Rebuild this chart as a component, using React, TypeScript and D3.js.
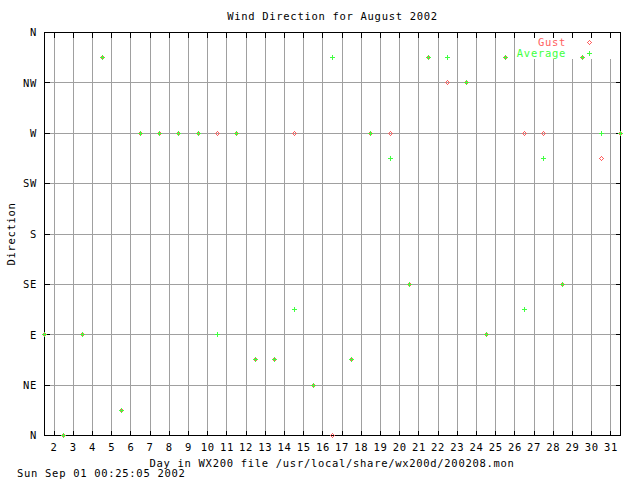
import * as d3 from 'd3';

// day position on the x axis (reading taken at mid-day)
const dayPos = [1.5, 2.5, 3.5, 4.5, 5.5, 6.5, 7.5, 8.5, 9.5, 10.5, 11.5, 12.5, 13.5, 14.5, 15.5, 16.5,
  17.5, 18.5, 19.5, 20.5, 21.5, 22.5, 23.5, 24.5, 25.5, 26.5, 27.5, 28.5, 29.5, 30.5, 31.5];
const gust = [90, 0, 90, 337.5, 22.5, 270, 270, 270, 270, 270, 270, 67.5, 67.5, 270, 45, 0,
  67.5, 270, 270, 135, 337.5, 315, 315, 90, 337.5, 270, 270, 135, 337.5, 247.5, 270];
const average = [90, 0, 90, 337.5, 22.5, 270, 270, 270, 270, 90, 270, 67.5, 67.5, 112.5, 45, 337.5,
  67.5, 270, 247.5, 135, 337.5, 337.5, 315, 90, 337.5, 112.5, 247.5, 135, 337.5, 270, 270];
const dayTicks = [2, 3, 4, 5, 6, 7, 8, 9, 10, 11, 12, 13, 14, 15, 16, 17, 18, 19, 20, 21, 22, 23, 24,
  25, 26, 27, 28, 29, 30, 31];
const dirTicks = [0, 45, 90, 135, 180, 225, 270, 315, 360];
const dirLabels = ['N', 'NE', 'E', 'SE', 'S', 'SW', 'W', 'NW', 'N'];

const RED = '#ff6060';
const GREEN = '#40ff40';
const GRID = '#a0a0a0';
const font = { fontFamily: '"DejaVu Sans Mono", monospace', fontSize: 10.5, letterSpacing: 0.7 };

const left = 44.5, right = 620.5, top = 32.5, bottom = 435.5;

// pixel-style point marks, like gnuplot's png terminal
const diamondPx = [[0, -2], [1, -1], [2, 0], [1, 1], [0, 2], [-1, 1], [-2, 0], [-1, -1]];

function Diamond({ cx, cy, color }: { cx: number; cy: number; color: string }) {
  return (
    <g fill={color}>
      {diamondPx.map(([dx, dy], i) => (
        <rect key={i} x={cx + dx} y={cy + dy} width={1} height={1} />
      ))}
    </g>
  );
}

function Plus({ cx, cy, color }: { cx: number; cy: number; color: string }) {
  return (
    <g fill={color}>
      <rect x={cx - 2} y={cy} width={5} height={1} />
      <rect x={cx} y={cy - 2} width={1} height={5} />
    </g>
  );
}

export default function App() {
  const x = d3.scaleLinear().domain([1.5, 31.5]).range([left, right]);
  const y = d3.scaleLinear().domain([0, 360]).range([bottom, top]);
  const px = (d: number) => Math.round(x(d) - 0.5);
  const py = (v: number) => Math.round(y(v) - 0.5);

  return (
    <svg width={640} height={480} style={{ position: 'absolute', left: 0, top: 0, background: '#fff' }}>
      <rect width={640} height={480} fill="#fff" />
      <g stroke={GRID} strokeWidth={1} shapeRendering="crispEdges">
        {dayTicks.map(d => (
          <line key={'gx' + d} x1={px(d) + 0.5} x2={px(d) + 0.5} y1={top} y2={bottom} />
        ))}
        {dirTicks.slice(1, -1).map(v => (
          <line key={'gy' + v} x1={left} x2={right} y1={py(v) + 0.5} y2={py(v) + 0.5} />
        ))}
      </g>
      {/* legend background */}
      <rect x={517} y={38} width={100} height={21} fill="#fff" />
      <g stroke="#000" strokeWidth={1} shapeRendering="crispEdges" fill="none">
        <rect x={left} y={top} width={right - left} height={bottom - top} />
        {dayTicks.map(d => (
          <g key={'tx' + d}>
            <line x1={px(d) + 0.5} x2={px(d) + 0.5} y1={bottom} y2={bottom - 5} />
            <line x1={px(d) + 0.5} x2={px(d) + 0.5} y1={top} y2={top + 5} />
          </g>
        ))}
        {dirTicks.map(v => (
          <g key={'ty' + v}>
            <line x1={left} x2={left + 5} y1={py(v) + 0.5} y2={py(v) + 0.5} />
            <line x1={right} x2={right - 5} y1={py(v) + 0.5} y2={py(v) + 0.5} />
          </g>
        ))}
      </g>
      <g style={font} fill="#000">
        {dirTicks.map((v, i) => (
          <text key={'ly' + v} x={37} y={y(v)} dy="0.36em" textAnchor="end">{dirLabels[i]}</text>
        ))}
        {dayTicks.map(d => (
          <text key={'lx' + d} x={x(d)} y={450.5} textAnchor="middle">{d}</text>
        ))}
        <text x={332.5} y={19.5} textAnchor="middle">Wind Direction for August 2002</text>
        <text x={332} y={466.5} textAnchor="middle">Day in WX200 file /usr/local/share/wx200d/200208.mon</text>
        <text x={17} y={477} textAnchor="start">Sun Sep 01 00:25:05 2002</text>
        <text transform="translate(14.5,234) rotate(-90)" textAnchor="middle">Direction</text>
        <text x={566} y={46} textAnchor="end" fill={RED}>Gust</text>
        <text x={566} y={56.5} textAnchor="end" fill={GREEN}>Average</text>
      </g>
      <g shapeRendering="crispEdges">
        <Diamond cx={589} cy={42} color={RED} />
        <Plus cx={589} cy={53} color={GREEN} />
        {dayPos.map((d, i) => (
          <Diamond key={'g' + i} cx={px(d)} cy={py(gust[i])} color={RED} />
        ))}
        {dayPos.map((d, i) => (
          <Plus key={'a' + i} cx={px(d)} cy={py(average[i])} color={GREEN} />
        ))}
      </g>
    </svg>
  );
}
